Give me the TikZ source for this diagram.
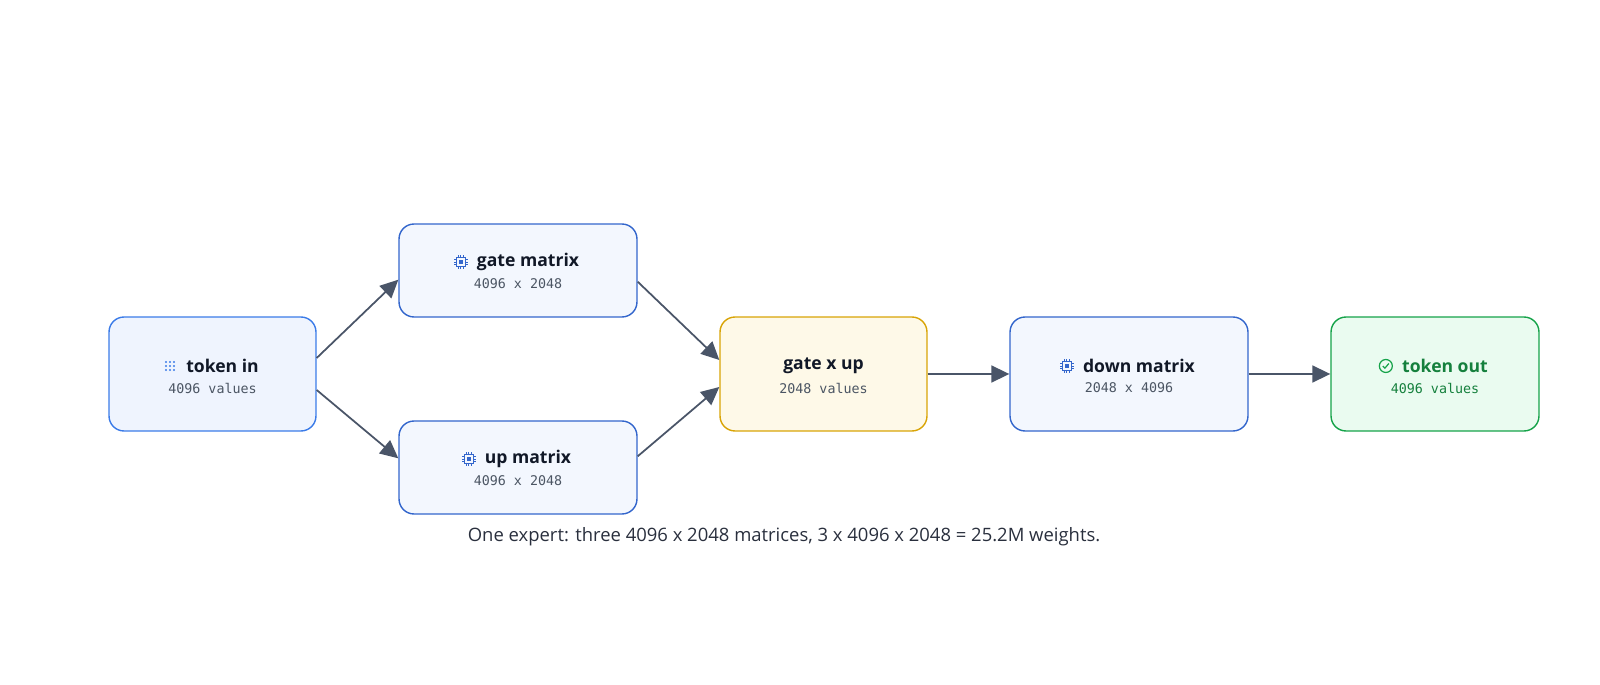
\documentclass[tikz,border=0pt]{standalone}
\usepackage{fontspec}
\setmainfont{Open Sans}
\setmonofont{DejaVu Sans Mono}
\usetikzlibrary{arrows.meta,positioning}
\definecolor{blueline}{HTML}{3B7BE8}
\definecolor{matline}{HTML}{3366CC}
\definecolor{bluefill}{HTML}{EFF4FE}
\definecolor{matfill}{HTML}{F3F7FE}
\definecolor{goldline}{HTML}{D9A406}
\definecolor{goldfill}{HTML}{FEF9E8}
\definecolor{greenline}{HTML}{16A34A}
\definecolor{greenfill}{HTML}{EAFBF0}
\definecolor{greentext}{HTML}{15803D}
\definecolor{arrowcol}{HTML}{4A5568}
\definecolor{subcol}{HTML}{4B5563}
\definecolor{titlecol}{HTML}{111827}
\tikzset{
  box/.style={rectangle, draw, rounded corners=0.3cm, line width=0.8pt,
              minimum width=4.14cm, minimum height=2.28cm},
  matbox/.style={box, draw=matline, fill=matfill, minimum width=4.76cm},
  line/.style={draw=arrowcol, line width=1pt, -{Triangle[length=3.6mm,width=3.4mm]}},
  ttl/.style={font=\bfseries\fontsize{10}{12}\selectfont, text=titlecol, inner sep=0pt},
  sub/.style={font=\ttfamily\fontsize{7.6}{9}\selectfont, text=subcol, inner sep=0pt},
  % icons
  chip/.pic={\draw[matline, line width=0.5pt] (-4.5,-4.5) rectangle (4.5,4.5);
    \fill[matline] (-2,-2) rectangle (2,2);
    \foreach \t in {-2.5,0,2.5}{\draw[matline, line width=0.5pt] (\t,4.5)--(\t,7) (\t,-4.5)--(\t,-7) (4.5,\t)--(7,\t) (-4.5,\t)--(-7,\t);}},
  dots/.pic={\foreach \i in {-4,0,4}{\foreach \j in {-4,0,4}{\fill[blueline] (\i,\j) circle (1.1);}}},
  tick/.pic={\draw[greenline, line width=0.7pt] (0,0) circle (6.5) (-3,0)--(-1,2.2)--(3,-2.5);}
}
\begin{document}
\begin{tikzpicture}[x=0.02cm,y=-0.02cm]
  \useasboundingbox (0,0) rectangle (1600,685);
  % Boxes
  \node [box, draw=blueline, fill=bluefill] (tokin) at (212.5,374) {};
  \node [matbox, minimum height=1.86cm] (gate) at (518,270.5) {};
  \node [matbox, minimum height=1.86cm] (up) at (518,467.5) {};
  \node [box, draw=goldline, fill=goldfill] (prod) at (823.5,374) {};
  \node [matbox] (down) at (1129,374) {};
  \node [box, draw=greenline, fill=greenfill, minimum width=4.16cm] (tokout) at (1435,374) {};
  % Titles (shifted right to leave room for the icon)
  \node [ttl] (tokint) at (222.5,366) {token in};
  \node [ttl] (gatet) at (528,262) {gate matrix};
  \node [ttl] (upt) at (528,459) {up matrix};
  \node [ttl] (prodt) at (823.5,366) {gate x up};
  \node [ttl] (downt) at (1139,366) {down matrix};
  \node [ttl, text=greentext] (tokoutt) at (1445,366) {token out};
  % Icons
  \pic at ([xshift=-0.32cm]tokint.west) {dots};
  \pic at ([xshift=-0.32cm]gatet.west) {chip};
  \pic at ([xshift=-0.32cm]upt.west) {chip};
  \pic at ([xshift=-0.32cm]downt.west) {chip};
  \pic at ([xshift=-0.32cm]tokoutt.west) {tick};
  % Sizes
  \node [sub] (tokins) at (212.5,388) {4096 values};
  \node [sub] (gates) at (518,284) {4096 x 2048};
  \node [sub] (ups) at (518,481) {4096 x 2048};
  \node [sub] (prods) at (823.5,388) {2048 values};
  \node [sub] (downs) at (1129,388) {2048 x 4096};
  \node [sub, text=greentext] (tokouts) at (1435,388) {4096 values};
  % Lines
  \draw [line] ([yshift=0.32cm]tokin.east) -- ([yshift=0.76cm]gate.south west);
  \draw [line] ([yshift=-0.32cm]tokin.east) -- ([yshift=-0.76cm]up.north west);
  \draw [line] ([yshift=0.72cm]gate.south east) -- ([yshift=0.28cm]prod.west);
  \draw [line] ([yshift=-0.72cm]up.north east) -- ([yshift=-0.26cm]prod.west);
  \draw [line] (prod) -- (down);
  \draw [line] (down) -- (tokout);
  % Caption
  \node [font=\fontsize{10.5}{13}\selectfont, text=titlecol!90] (caption) at (784,537)
    {One expert: three 4096 x 2048 matrices, 3 x 4096 x 2048 = 25.2M weights.};
\end{tikzpicture}
\end{document}
